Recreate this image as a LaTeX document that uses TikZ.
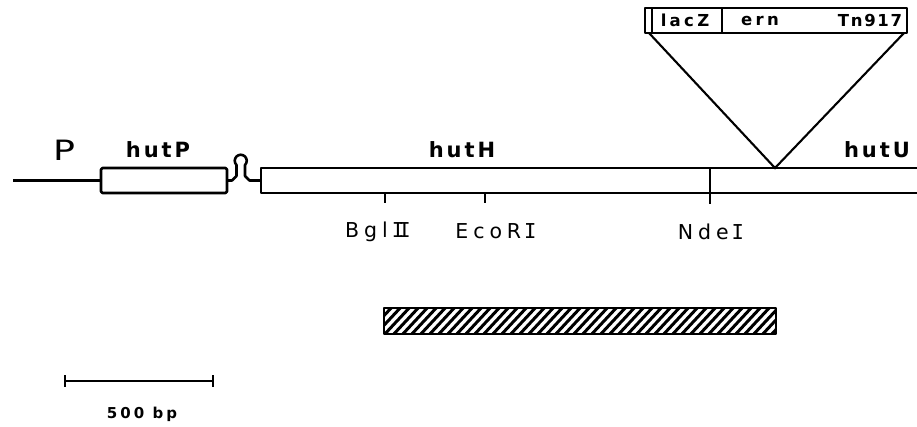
\documentclass[tikz,border=0pt]{standalone}
\usepackage{fontspec}
\setmainfont{DejaVu Sans}
\newfontfamily\genefont[LetterSpace=14]{DejaVu Sans}
\newfontfamily\sitefont[LetterSpace=24]{DejaVu Sans}
\newfontfamily\numfont{DejaVu Sans Mono}
\newfontfamily\insfont[LetterSpace=20]{DejaVu Sans}
\newfontfamily\tnfont[LetterSpace=10]{DejaVu Sans}
\newcommand{\rI}{{\numfont I}}
\newcommand{\rII}{{\numfont I\kern-0.28em I}}
\begin{document}
\begin{tikzpicture}[x=1pt,y=-1pt,
  dna/.style={line width=2.6pt,line join=round},
  thin dna/.style={line width=2.1pt},
  genelbl/.style={inner sep=0pt,font=\genefont\bfseries\fontsize{21}{21}\selectfont},
  sitelbl/.style={inner sep=0pt,font=\sitefont\fontsize{20.5}{20.5}\selectfont},
  inslbl/.style={inner sep=0pt,font=\insfont\bfseries\fontsize{16.5}{16.5}\selectfont},
  scalelbl/.style={inner sep=0pt,font=\insfont\bfseries\fontsize{15}{15}\selectfont}]
\useasboundingbox (0,0) rectangle (917,427);
% coordinates
\coordinate (start) at (13,180.5);
\coordinate (pL) at (101,180.5);
\coordinate (pR) at (227,180.5);
\coordinate (hL) at (261,180.5);
% promoter line
\draw[dna] (start) -- (pL);
% hutP box
\draw[dna,rounded corners=1.5pt] (101,168) rectangle (227,193);
% terminator
\draw[dna] (pR) -- (232,180.5) -- (236.5,176) -- (236.5,165)
  arc[start angle=225,end angle=-45,radius=6pt] -- (245,176) -- (249.5,180.5) -- (hL);
% hutH / hutU box open at right
\draw[dna] (917,168) -- (261,168) -- (261,193) -- (917,193);
% NdeI line
\coordinate (nde1) at (710,168);
\coordinate (nde2) at (710,204);
\draw[dna] (nde1) -- (nde2);
% BglII and EcoRI ticks
\coordinate (bgl1) at (385,193);
\coordinate (bgl2) at (385,203);
\coordinate (eco1) at (485,193);
\coordinate (eco2) at (485,203);
\draw[dna] (bgl1) -- (bgl2);
\draw[dna] (eco1) -- (eco2);
% insertion
\coordinate (ins) at (775,168);
\coordinate (insL) at (649,33);
\coordinate (insR) at (904,33);
\draw[thin dna] (insL) -- (ins) -- (insR);
\draw[dna] (645,8) rectangle (907,33);
\draw[thin dna] (652,8) -- (652,33);
\draw[thin dna] (722,8) -- (722,33);
\node[inslbl] (lacZ) at (685,20.5) {lacZ};
\node[inslbl] (ern) at (760,21) {ern};
\node[inslbl,font=\tnfont\bfseries\fontsize{16.5}{16.5}\selectfont] (tn) at (870,20.5) {Tn917};
% labels
\node[inner sep=0pt,xscale=1.3,font=\fontsize{28}{28}\selectfont] (P) at (64,150) {P};
\node[genelbl] (hutP) at (158,149.5) {hutP};
\node[genelbl] (hutH) at (462,149.5) {hutH};
\node[genelbl] (hutU) at (877,149.5) {hutU};
\node[sitelbl] (bgl) at (378,231.5) {Bgl\hspace{4pt}\rII};
\node[sitelbl] (eco) at (496,231.5) {EcoR\hspace{3pt}\rI};
\node[sitelbl] (nde) at (711,231.5) {Nde\hspace{3pt}\rI};
% hatched fragment
\begin{scope}
\clip (384,308) rectangle (776,334);
\foreach \i in {356,365,...,790}{
  \draw[line width=3pt] (\i,336) -- (\i+28,306);
}
\end{scope}
\draw[dna] (384,308) rectangle (776,334);
% scale bar
\coordinate (s1) at (65,381);
\coordinate (s2) at (213,381);
\draw[dna] (s1) -- (s2);
\draw[dna] (65,375) -- (65,387);
\draw[dna] (213,375) -- (213,387);
\node[scalelbl] (sc) at (142,414) {500 bp};
\end{tikzpicture}
\end{document}
